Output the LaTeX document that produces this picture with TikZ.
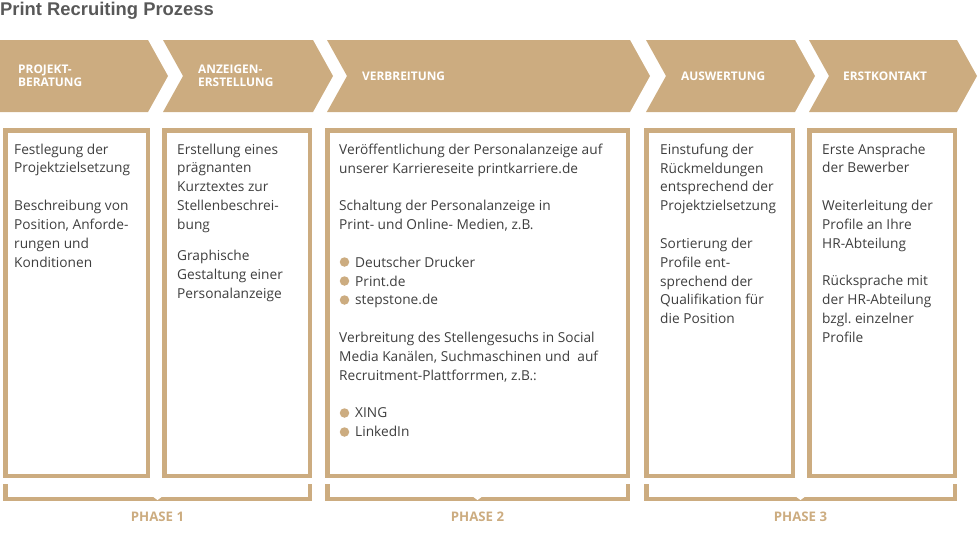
\documentclass[tikz,border=0pt]{standalone}
\usepackage{fontspec}
\setmainfont{Open Sans}
\newfontfamily\titlefont{Liberation Sans}
\usetikzlibrary{positioning}
\definecolor{gold}{RGB}{204,172,128}
\definecolor{txtgray}{RGB}{62,62,62}
\definecolor{titlegray}{RGB}{88,88,88}
\newcommand{\gapline}{\\[18.8pt]}
\newcommand{\ind}{\hspace*{16pt}}

\tikzset{
  chevron/.style={fill=gold},
  steplabel/.style={anchor=west, align=left, inner sep=0pt, text=white,
    font=\fontsize{11.9}{13}\selectfont\bfseries},
  infobox/.style={draw=gold, line width=4.5pt},
  infotext/.style={anchor=north west, align=left, inner sep=0pt, text=txtgray,
    font=\fontsize{13.7}{18.85}\selectfont},
  bracket/.style={draw=gold, line width=4.5pt, miter limit=10},
  phaselabel/.style={inner sep=0pt, text=gold, font=\fontsize{13.2}{14}\selectfont\bfseries},
  dot/.style={circle, fill=gold, minimum size=9.5pt, inner sep=0pt}
}

\begin{document}
\begin{tikzpicture}[x=1pt, y=-1pt]
\useasboundingbox (0,0) rectangle (980,538);

% title
\node[anchor=base west, inner sep=0pt, text=titlegray, font=\titlefont\bfseries\fontsize{18.4}{20}\selectfont] (title) at (0,15) {Print Recruiting Prozess};

% steps
\fill[chevron] (0,40) -- (148,40) -- (168,76) -- (148,112) -- (0,112) -- cycle;
\foreach \l/\r in {163/313, 327/630, 646/795, 809/957}
  \fill[chevron] (\l,40) -- (\r,40) -- (\r+20,76) -- (\r,112) -- (\l,112) -- (\l+20,76) -- cycle;
\node[steplabel] (step1) at (18,76) {PROJEKT-\\BERATUNG};
\node[steplabel] (step2) at (198,76) {ANZEIGEN-\\ERSTELLUNG};
\node[steplabel] (step3) at (362,76) {VERBREITUNG};
\node[steplabel] (step4) at (681,76) {AUSWERTUNG};
\node[steplabel] (step5) at (843,76) {ERSTKONTAKT};

% boxes
\foreach \l/\r in {3/150, 162/312, 325/630, 644/795, 807/957}
  \draw[infobox] (\l+2.25,130.25) rectangle (\r-2.25,475.75);

\node[infotext] (text1) at (14,143.5) {Festlegung der\\Projektzielsetzung\gapline
  Beschreibung von\\Position, Anforde-\\rungen und\\Konditionen};
\node[infotext] (text2) at (177,143.5) {Erstellung eines\\prägnanten\\Kurztextes zur\\Stellenbeschrei-\\bung\\[12pt]
  Graphische\\Gestaltung einer\\Personalanzeige};
\node[infotext] (text3) at (339,143.5) {Veröffentlichung der Personalanzeige auf\\unserer Karriereseite printkarriere.de\gapline
  Schaltung der Personalanzeige in\\Print- und Online- Medien, z.B.\gapline
  \ind Deutscher Drucker\\\ind Print.de\\\ind stepstone.de\gapline
  Verbreitung des Stellengesuchs in Social\\Media Kanälen, Suchmaschinen und\ \ auf\\Recruitment-Plattforrmen, z.B.:\gapline
  \ind XING\\\ind LinkedIn};
\node[infotext] (text4) at (660,143.5) {Einstufung der\\Rückmeldungen\\entsprechend der\\Projektzielsetzung\gapline
  Sortierung der\\Profile ent-\\sprechend der\\Qualifikation für\\die Position};
\node[infotext] (text5) at (822,143.5) {Erste Ansprache\\der Bewerber\gapline
  Weiterleitung der\\Profile an Ihre\\HR-Abteilung\gapline
  Rücksprache mit\\der HR-Abteilung\\bzgl.\ einzelner\\Profile};

% bullets
\foreach \y [count=\i] in {262,281,300,413,432}
  \node[dot] (dot\i) at (344.5,\y) {};

% phases
\foreach \l/\r/\p in {3/312/1, 325/630/2, 644/957/3} {
  \draw[bracket] (\l+2.25,484) -- (\l+2.25,498.75) -- (\r-2.25,498.75) -- (\r-2.25,484);
  \fill[white] ({(\l+\r)/2-5},496.3) -- ({(\l+\r)/2+5},496.3) -- ({(\l+\r)/2},500) -- cycle;
  \node[phaselabel] (phase\p) at ({(\l+\r)/2},517) {PHASE \p};
}
\end{tikzpicture}
\end{document}
